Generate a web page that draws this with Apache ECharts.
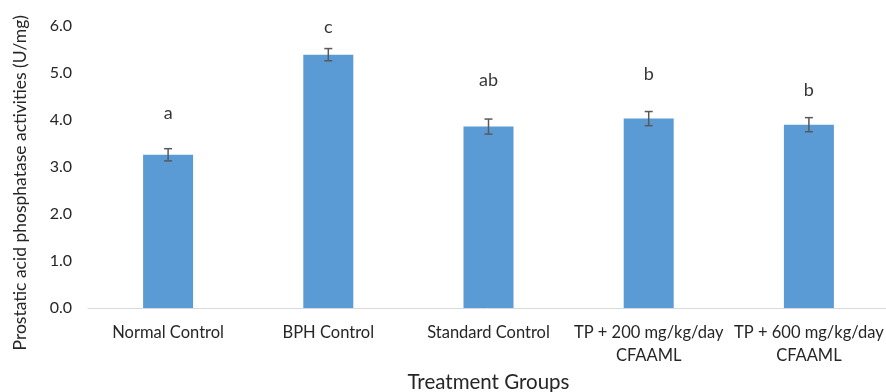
<!DOCTYPE html>
<html><head><meta charset="utf-8">
<script src="https://cdn.jsdelivr.net/npm/echarts@6/dist/echarts.min.js"></script>
<style>html,body{margin:0;padding:0;background:#fff}#c{width:886px;height:392px}</style>
</head><body><div id="c"></div>
<script>
const categories = ["Normal Control", "BPH Control", "Standard Control", "TP + 200 mg/kg/day\nCFAAML", "TP + 600 mg/kg/day\nCFAAML"];
const values = [3.26, 5.39, 3.86, 4.03, 3.90];
const errors = [0.13, 0.13, 0.16, 0.15, 0.15];
const letters = ["a", "c", "ab", "b", "b"];
const letterHeights = [4.15, 5.98, 4.84, 4.98, 4.64];
const yTicks = [0, 1, 2, 3, 4, 5, 6];

const FONT = "Lato, 'Open Sans', sans-serif";
const chart = echarts.init(document.getElementById('c'), null, {renderer: 'canvas'});
chart.setOption({
  animation: false,
  backgroundColor: '#fff',
  grid: {left: 88, top: 26, width: 801, height: 282, containLabel: false, outerBoundsMode: 'none'},
  xAxis: {
    type: 'category', data: categories,
    axisLine: {lineStyle: {color: '#d9d9d9', width: 1}},
    axisTick: {show: false},
    axisLabel: {color: '#262626', fontSize: 16.5, fontFamily: FONT, margin: 13, lineHeight: 23, interval: 0, hideOverlap: false},
    name: 'Treatment Groups', nameLocation: 'middle', nameGap: 63,
    nameTextStyle: {color: '#262626', fontSize: 20.5, fontFamily: FONT}
  },
  yAxis: {
    type: 'value', min: yTicks[0], max: yTicks[yTicks.length - 1], interval: 1,
    axisLine: {show: false}, axisTick: {show: false}, splitLine: {show: false},
    axisLabel: {color: '#262626', fontSize: 16, fontFamily: FONT, margin: 16, formatter: v => v.toFixed(1)}
  },
  graphic: [{
    type: 'text', left: 11, top: 15, rotation: Math.PI / 2,
    style: {text: 'Prostatic acid phosphatase activities (U/mg)', fill: '#262626', fontSize: 17.5, fontFamily: FONT}
  }],
  series: [
    {type: 'bar', data: values, barWidth: 50, itemStyle: {color: '#5b9bd5'}},
    {
      type: 'custom', z: 5,
      data: values.map((v, i) => [i, v - errors[i], v + errors[i]]),
      renderItem: function (params, api) {
        const lo = api.coord([api.value(0), api.value(1)]);
        const hi = api.coord([api.value(0), api.value(2)]);
        const x = lo[0], w = 4;
        const st = {stroke: '#595959', lineWidth: 1.5};
        return {type: 'group', children: [
          {type: 'line', shape: {x1: x, y1: lo[1], x2: x, y2: hi[1]}, style: st},
          {type: 'line', shape: {x1: x - w, y1: lo[1], x2: x + w, y2: lo[1]}, style: st},
          {type: 'line', shape: {x1: x - w, y1: hi[1], x2: x + w, y2: hi[1]}, style: st}
        ]};
      }
    },
    {
      type: 'scatter', symbolSize: 0, z: 6,
      data: letterHeights.map((h, i) => ({value: [i, h], name: letters[i]})),
      label: {show: true, position: 'inside', formatter: p => p.name, color: '#000', fontSize: 18, fontFamily: FONT}
    }
  ]
});
</script></body></html>
